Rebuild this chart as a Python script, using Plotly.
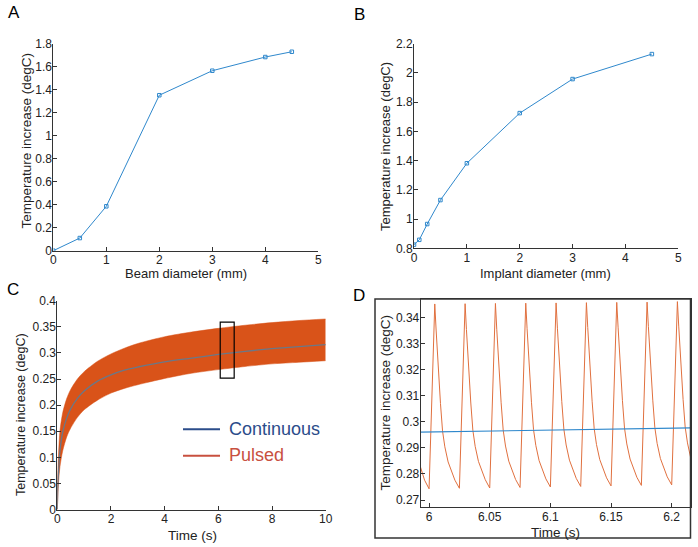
import plotly.graph_objects as go

# ---------------- data ----------------
# Panel A
beam_d = [0, 0.5, 1, 2, 3, 4, 4.5]
beam_dT = [0.0, 0.11, 0.386, 1.352, 1.565, 1.684, 1.730]
# Panel B
implant_d = [0, 0.1, 0.25, 0.5, 1, 2, 3, 4.5]
implant_dT = [0.825, 0.858, 0.966, 1.130, 1.382, 1.725, 1.958, 2.129]
# Panel C
c_time = [0, 0.02, 0.05, 0.1, 0.2, 0.35, 0.5, 0.75, 1, 1.5, 2, 2.5, 3, 4, 5, 6, 7, 8, 9, 10]
c_pulsed_upper = [0.0, 0.075, 0.110, 0.151, 0.185, 0.2125, 0.230, 0.250, 0.264, 0.284, 0.298, 0.309,
                  0.318, 0.331, 0.340, 0.347, 0.353, 0.358, 0.362, 0.365]
c_pulsed_lower = [0.0, 0.025, 0.055, 0.082, 0.112, 0.139, 0.156, 0.1765, 0.191, 0.2095, 0.223, 0.232,
                  0.239, 0.251, 0.261, 0.268, 0.274, 0.279, 0.282, 0.285]
c_continuous = [0.0, 0.050, 0.075, 0.113, 0.148, 0.175, 0.193, 0.213, 0.227, 0.246, 0.258, 0.267,
                0.273, 0.283, 0.290, 0.297, 0.303, 0.308, 0.312, 0.316]
c_zoom_box_t = [6.07, 6.59]
c_zoom_box_v = [0.2516, 0.359]
# Panel D
d_pre_t = [5.9880, 5.9935, 5.9963]
d_pre_v = [0.2900, 0.2822, 0.2776]
d_pulse_onsets = [6.000, 6.025, 6.050, 6.075, 6.100, 6.125, 6.150, 6.175, 6.200]
d_pulse_offsets = [0, 0.0024, 0.0047, 0.0058, 0.0069, 0.0080, 0.0094, 0.0111, 0.0130, 0.0157, 0.0185, 0.0213]
d_pulse_values = [
    [0.2743, 0.3150, 0.3452, 0.3352, 0.3249, 0.3160, 0.3070, 0.2965, 0.2904, 0.2846, 0.2808, 0.2776],
    [0.2745, 0.3152, 0.3453, 0.3354, 0.3251, 0.3162, 0.3072, 0.2967, 0.2906, 0.2848, 0.2810, 0.2778],
    [0.2746, 0.3153, 0.3454, 0.3355, 0.3252, 0.3163, 0.3073, 0.2968, 0.2907, 0.2849, 0.2811, 0.2779],
    [0.2748, 0.3155, 0.3455, 0.3357, 0.3254, 0.3165, 0.3075, 0.2970, 0.2909, 0.2851, 0.2813, 0.2781],
    [0.2750, 0.3157, 0.3456, 0.3359, 0.3256, 0.3167, 0.3077, 0.2972, 0.2911, 0.2853, 0.2815, 0.2783],
    [0.2752, 0.3159, 0.3457, 0.3361, 0.3258, 0.3169, 0.3079, 0.2974, 0.2913, 0.2855, 0.2817, 0.2785],
    [0.2754, 0.3161, 0.3458, 0.3363, 0.3260, 0.3171, 0.3081, 0.2976, 0.2915, 0.2857, 0.2819, 0.2787],
    [0.2756, 0.3163, 0.3459, 0.3365, 0.3262, 0.3173, 0.3083, 0.2978, 0.2917, 0.2859, 0.2821, 0.2789],
    [0.2758, 0.3165, 0.3461, 0.3367, 0.3264, 0.3175, 0.3085, 0.2980, 0.2919, 0.2861, 0.2823, 0.2791],
]
d_cont_t = [5.99, 6.10, 6.22]
d_cont_v = [0.2960, 0.2969, 0.2977]

# tick labels
a_xt = [0, 1, 2, 3, 4, 5]
a_yt = [0, 0.2, 0.4, 0.6, 0.8, 1, 1.2, 1.4, 1.6, 1.8]
a_ytl = ["0", "0.2", "0.4", "0.6", "0.8", "1", "1.2", "1.4", "1.6", "1.8"]
b_yt = [0.8, 1, 1.2, 1.4, 1.6, 1.8, 2, 2.2]
b_ytl = ["0.8", "1", "1.2", "1.4", "1.6", "1.8", "2", "2.2"]
c_xt = [0, 2, 4, 6, 8, 10]
c_yt = [0, 0.05, 0.1, 0.15, 0.2, 0.25, 0.3, 0.35, 0.4]
c_ytl = ["0", "0.05", "0.1", "0.15", "0.2", "0.25", "0.3", "0.35", "0.4"]
d_xt = [6, 6.05, 6.1, 6.15, 6.2]
d_xtl = ["6", "6.05", "6.1", "6.15", "6.2"]
d_yt = [0.27, 0.28, 0.29, 0.3, 0.31, 0.32, 0.33, 0.34]
d_ytl = ["0.27", "0.28", "0.29", "0.3", "0.31", "0.32", "0.33", "0.34"]

# ---------------- figure ----------------
W, H = 698, 547
def px(x):
    return x / W
def py(y):
    return 1 - y / H

FONT = "Liberation Sans, Arial, Helvetica, sans-serif"
LINE_BLUE = "#2F88CC"
ORANGE = "#D95319"

# build panel D pulsed series
d_t = list(d_pre_t)
d_v = list(d_pre_v)
for onset, vals in zip(d_pulse_onsets, d_pulse_values):
    for off, v in zip(d_pulse_offsets, vals):
        d_t.append(round(onset + off, 5))
        d_v.append(v)

fig = go.Figure()
fig.add_trace(go.Scatter(x=beam_d, y=beam_dT, mode="lines+markers",
                         line=dict(color=LINE_BLUE, width=1),
                         marker=dict(symbol="square-open", size=3.5, color=LINE_BLUE, line=dict(width=1)),
                         xaxis="x", yaxis="y", showlegend=False))
fig.add_trace(go.Scatter(x=implant_d, y=implant_dT, mode="lines+markers",
                         line=dict(color=LINE_BLUE, width=1),
                         marker=dict(symbol="square-open", size=3.5, color=LINE_BLUE, line=dict(width=1)),
                         xaxis="x2", yaxis="y2", showlegend=False))
fig.add_trace(go.Scatter(x=c_time, y=c_pulsed_lower, mode="lines",
                         line=dict(color=ORANGE, width=0.5, shape="spline", smoothing=0.8),
                         xaxis="x3", yaxis="y3", showlegend=False))
fig.add_trace(go.Scatter(x=c_time, y=c_pulsed_upper, mode="lines", fill="tonexty",
                         fillcolor=ORANGE, line=dict(color=ORANGE, width=0.5, shape="spline", smoothing=0.8),
                         xaxis="x3", yaxis="y3", showlegend=False))
fig.add_trace(go.Scatter(x=c_time, y=c_continuous, mode="lines",
                         line=dict(color="#6a7888", width=1.3, shape="spline", smoothing=0.8),
                         xaxis="x3", yaxis="y3", showlegend=False))
fig.add_trace(go.Scatter(x=d_t, y=d_v, mode="lines",
                         line=dict(color="#E0703F", width=1),
                         xaxis="x4", yaxis="y4", showlegend=False))
fig.add_trace(go.Scatter(x=d_cont_t, y=d_cont_v, mode="lines",
                         line=dict(color=LINE_BLUE, width=1.2),
                         xaxis="x4", yaxis="y4", showlegend=False))

ax = dict(showline=True, linecolor="#333333", linewidth=1, ticks="inside", ticklen=4,
          tickcolor="#333333", tickwidth=1, showgrid=False, zeroline=False, automargin=False,
          tickfont=dict(family=FONT, size=12, color="#222222"))
axx = dict(ax, ticklabelstandoff=-2)
axy = dict(ax, ticklabelstandoff=-2)

fig.update_layout(
    width=W, height=H, margin=dict(l=0, r=0, t=0, b=0, pad=0), autosize=False,
    paper_bgcolor="white", plot_bgcolor="white", showlegend=False,
    font=dict(family=FONT, color="#222222"),
    xaxis=dict(axx, domain=[px(53.3), px(318.3)], range=[0, 5], tickvals=a_xt, anchor="y"),
    yaxis=dict(axy, domain=[py(250.7), py(43.7)], range=[0, 1.8], tickvals=a_yt, ticktext=a_ytl, anchor="x"),
    xaxis2=dict(axx, domain=[px(414), px(678.3)], range=[0, 5], tickvals=a_xt, anchor="y2"),
    yaxis2=dict(axy, domain=[py(248.3), py(43.7)], range=[0.8, 2.2], tickvals=b_yt, ticktext=b_ytl, anchor="x2"),
    xaxis3=dict(axx, domain=[px(57.3), px(325.7)], range=[0, 10], tickvals=c_xt, anchor="y3"),
    yaxis3=dict(axy, domain=[py(509.5), py(300.7)], range=[0, 0.4], tickvals=c_yt, ticktext=c_ytl, anchor="x3"),
    xaxis4=dict(axx, domain=[px(420.7), px(690.5)], range=[5.9931, 6.2155], tickvals=d_xt, ticktext=d_xtl,
                anchor="y4", mirror=True),
    yaxis4=dict(axy, domain=[py(507.3), py(299)], range=[0.2672, 0.3471], tickvals=d_yt, ticktext=d_ytl,
                anchor="x4", mirror=True),
)

def note(text, x, y, size, angle=0, color="#222222", xanchor="center"):
    fig.add_annotation(text=text, x=px(x), y=py(y), xref="paper", yref="paper",
                       showarrow=False, textangle=angle, xanchor=xanchor, yanchor="middle",
                       font=dict(family=FONT, size=size, color=color))

# axis titles
note("Temperature increase (degC)", 26.5, 141, 13.5, -90)
note("Beam diameter (mm)", 186, 273, 13)
note("Temperature increase (degC)", 385, 147, 13, -90)
note("Implant diameter (mm)", 545, 273, 13)
note("Temperature increase (degC)", 21, 415, 12.5, -90)
note("Time (s)", 192, 535, 13.5)
note("Temperature increase (degC)", 385, 402.5, 13.5, -90)
note("Time (s)", 555, 532.5, 13.5)

# panel letters
note("A", 14, 12.5, 17, color="black")
note("B", 359, 14, 17, color="black")
note("C", 12.5, 289, 17, color="black")
note("D", 359, 295.5, 17, color="black")

# legend in C
fig.add_shape(type="line", xref="paper", yref="paper", x0=px(183), x1=px(220), y0=py(429.3), y1=py(429.3),
              line=dict(color="#2B4C8A", width=2))
fig.add_shape(type="line", xref="paper", yref="paper", x0=px(183), x1=px(220), y0=py(455.7), y1=py(455.7),
              line=dict(color="#C8503F", width=2))
note("Continuous", 227, 428.5, 18, color="#2B4C8A", xanchor="left")
note("Pulsed", 227, 455, 18, color="#C8503F", xanchor="left")

# zoom box in C
fig.add_shape(type="rect", xref="x3", yref="y3", x0=c_zoom_box_t[0], x1=c_zoom_box_t[1],
              y0=c_zoom_box_v[0], y1=c_zoom_box_v[1], line=dict(color="black", width=1.2))

# outer frame of D
fig.add_shape(type="rect", xref="paper", yref="paper", x0=px(375), x1=px(690.5), y0=py(538), y1=py(299),
              line=dict(color="#333333", width=1.5))

fig.write_html("out.html", config={"responsive": False, "displayModeBar": False},
               post_script="document.body.style.margin='0';document.body.style.padding='0';")
